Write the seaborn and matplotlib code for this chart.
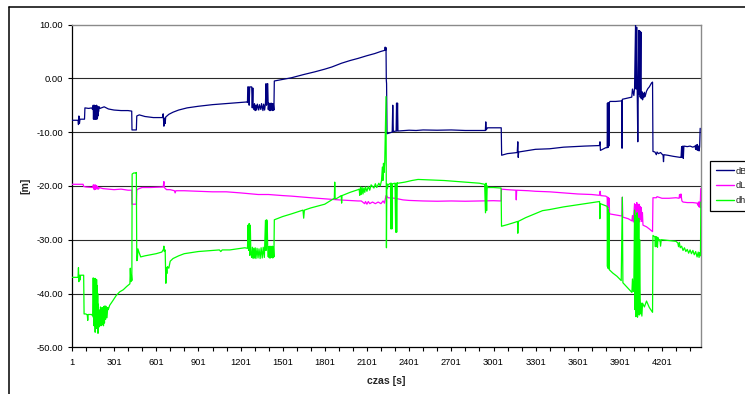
import numpy as np
import pandas as pd
import matplotlib
matplotlib.use("Agg")
import matplotlib.pyplot as plt
import seaborn as sns
from matplotlib.ticker import FixedLocator, FuncFormatter
from matplotlib.lines import Line2D

# ---------------- data (time [s], value [m]) ----------------
series_names = ["dB", "dL", "dh"]
series_colors = ["#000080", "#FF00FF", "#00FF00"]

dB_pts = [(1,-7.8),(44,-7.8),(47,-8.6),(50,-7.0),(54,-8.4),(58,-7.6),(90,-7.6),(93,-5.5),(120,-5.6),(140,-5.5),(148,-5.8),
 (152,-5.0),(154,-7.6),(156,-5.2),(158,-7.4),(160,-5.0),(162,-7.6),(164,-5.4),(166,-7.5),(168,-5.1),(170,-7.6),(172,-5.3),
 (174,-7.3),(176,-5.0),(178,-7.6),(180,-5.5),(182,-7.4),(184,-5.2),(186,-7.0),(188,-5.4),(190,-6.2),(195,-5.3),(200,-5.6),
 (210,-5.5),(230,-5.3),(260,-5.7),(300,-5.9),(350,-6.0),(400,-6.0),(426,-6.1),(428,-9.6),(459,-9.6),(462,-7.0),(480,-6.8),
 (520,-7.1),(580,-7.3),(645,-7.3),(650,-6.6),(655,-8.9),(660,-7.4),(664,-8.4),(668,-7.2),(690,-6.7),(720,-6.3),(760,-5.9),
 (820,-5.5),(900,-5.2),(1000,-4.9),(1100,-4.7),(1200,-4.5),(1245,-4.4),
 (1250,-4.5),(1252,-1.6),(1258,-1.6),(1262,-5.0),(1266,-1.6),(1280,-1.6),(1284,-5.5),(1288,-1.8),(1290,-4.8),
 (1295,-5.8),(1300,-4.7),(1305,-6.0),(1310,-5.0),(1315,-5.9),(1320,-4.8),(1330,-5.9),(1335,-4.9),(1345,-5.8),(1350,-4.7),
 (1360,-6.0),(1365,-4.8),(1372,-5.9),(1378,-4.6),
 (1382,-1.0),(1386,-5.0),(1390,-1.2),(1394,-1.0),(1398,-5.8),
 (1402,-4.6),(1406,-6.0),(1410,-4.8),(1414,-6.0),(1418,-4.6),(1422,-5.9),(1426,-4.7),(1430,-6.0),(1434,-4.8),(1438,-5.9),
 (1441,-0.5),(1500,-0.2),(1563,0.1),(1650,0.7),(1729,1.2),(1800,1.7),(1850,2.1),(1919,2.8),(1980,3.3),(2037,3.7),
 (2100,4.2),(2156,4.6),(2200,5.0),(2227,5.2),(2230,5.8),(2233,5.2),(2236,5.7),(2238,-0.3),(2240,-1.0),(2243,-10.3),
 (2280,-10.0),(2284,-5.0),(2288,-9.9),(2308,-9.8),(2311,-4.6),(2314,-9.8),(2318,-4.6),(2321,-9.8),(2350,-9.75),(2400,-9.65),
 (2450,-9.7),(2500,-9.6),(2600,-9.65),(2700,-9.6),(2800,-9.7),(2900,-9.7),(2943,-9.7),(2946,-8.1),(2949,-9.6),(2958,-9.2),
 (3000,-9.2),(3056,-9.2),(3059,-14.3),(3100,-14.0),(3170,-13.8),(3174,-11.8),(3177,-14.7),(3180,-13.7),(3250,-13.4),
 (3300,-13.2),(3400,-13.1),(3500,-12.8),(3650,-12.6),(3755,-12.5),(3759,-11.8),(3762,-13.4),(3800,-12.9),(3810,-12.9),
 (3812,-4.6),(3814,-12.8),(3816,-4.6),(3818,-12.8),(3820,-4.6),(3822,-12.6),(3825,-4.5),
 (3830,-4.3),(3870,-4.3),(3914,-4.2),(3916,-13.0),(3918,-3.9),(3950,-3.7),(3985,-3.5),(3990,-2.0),(4000,-3.2),(4005,-1.8),
 (4012,9.9),(4016,-2.0),(4020,9.5),(4024,-2.5),(4028,-11.8),(4031,-2.8),(4035,8.9),(4038,-3.0),(4042,8.8),(4045,-3.5),
 (4050,8.6),(4053,-3.8),(4058,-2.5),(4062,-4.0),(4066,-2.8),(4070,-3.6),(4075,-2.6),(4080,-3.4),(4090,-2.4),(4100,-1.9),
 (4110,-1.6),(4125,-0.9),(4133,-0.7),(4136,-13.6),(4150,-13.7),(4160,-14.2),(4165,-13.7),(4175,-14.0),(4190,-13.8),
 (4208,-14.3),(4211,-15.5),(4214,-14.2),(4240,-14.3),(4280,-14.5),(4330,-14.7),(4336,-14.7),(4340,-12.7),(4344,-14.7),
 (4348,-12.6),(4352,-14.9),(4356,-12.6),(4380,-12.7),(4400,-12.6),(4420,-12.8),(4435,-12.6),(4440,-13.2),(4444,-12.4),
 (4448,-13.3),(4452,-12.3),(4456,-13.4),(4460,-12.6),(4464,-13.5),(4468,-12.7),(4472,-9.3)]

dL_pts = [(1,-19.7),(80,-19.7),(84,-20.1),(100,-20.2),(150,-20.3),
 (153,-19.8),(156,-20.6),(159,-19.9),(162,-20.7),(165,-19.8),(168,-20.6),(171,-19.9),(174,-20.5),(177,-20.0),(180,-20.6),
 (185,-20.2),(190,-20.6),(196,-20.3),
 (220,-20.5),(260,-20.6),(300,-20.7),(350,-20.6),(400,-20.8),(426,-20.8),(428,-23.4),(459,-23.4),(462,-20.8),(470,-20.6),
 (500,-20.3),(560,-20.3),(650,-20.2),(655,-19.2),(658,-20.3),(674,-20.7),(700,-20.7),(730,-20.9),(735,-21.3),(740,-20.9),
 (800,-20.9),(900,-21.0),(1000,-21.1),(1100,-21.1),(1200,-21.3),(1326,-21.6),(1400,-21.6),(1500,-21.8),(1563,-21.9),
 (1650,-22.1),(1700,-22.2),(1800,-22.4),(1900,-22.6),(2037,-22.8),(2060,-22.8),
 (2084,-23.3),(2090,-22.9),(2100,-23.4),(2110,-22.9),(2120,-23.3),(2140,-23.0),(2160,-23.3),(2180,-23.0),(2200,-23.3),
 (2215,-22.8),(2225,-23.2),(2230,-22.6),(2236,-21.8),(2242,-21.9),(2250,-22.2),(2300,-22.3),(2357,-22.6),(2400,-22.7),
 (2500,-22.8),(2600,-22.85),(2700,-22.8),(2800,-22.85),(2900,-22.8),(3000,-22.75),(3055,-22.8),(3058,-20.6),(3100,-20.7),
 (3160,-20.8),(3163,-22.6),(3166,-20.8),(3250,-20.9),(3300,-21.0),(3400,-21.1),(3500,-21.3),(3600,-21.5),(3700,-21.6),
 (3755,-21.75),(3760,-21.0),(3764,-21.8),(3800,-21.9),(3810,-22.1),
 (3812,-24.0),(3814,-22.1),(3816,-24.0),(3818,-22.2),(3820,-23.9),(3824,-22.3),(3827,-25.2),
 (3870,-25.4),(3915,-25.6),(3918,-22.1),(3921,-25.8),(3960,-26.1),(3986,-26.5),(3990,-25.5),(3996,-26.7),
 (4005,-23.3),(4009,-26.5),(4013,-23.5),(4017,-26.6),(4021,-23.1),(4025,-26.7),(4029,-23.6),(4033,-26.3),(4037,-23.4),
 (4041,-26.7),(4045,-23.8),(4049,-26.2),(4053,-24.0),(4057,-26.6),(4061,-25.0),
 (4065,-27.3),(4090,-27.6),(4110,-28.0),(4133,-28.5),(4136,-22.2),(4160,-22.2),(4165,-22.0),(4200,-22.3),(4250,-22.3),
 (4300,-22.2),(4322,-22.3),(4325,-21.6),(4330,-22.2),(4335,-21.5),(4342,-22.8),(4350,-23.0),(4380,-23.1),(4420,-23.1),
 (4450,-23.2),(4456,-23.6),(4460,-23.0),(4464,-23.9),(4468,-23.0),(4472,-24.0),(4476,-20.5)]

dh_pts = [(1,-37.0),(44,-37.0),(47,-35.2),(50,-37.8),(54,-36.6),(58,-37.5),(62,-36.6),(84,-36.6),(87,-43.8),(100,-43.8),
 (110,-44.0),(113,-45.0),(116,-43.9),(140,-43.9),(150,-44.2),
 (152,-37.1),(154,-44.5),(156,-37.3),(158,-46.0),(160,-37.2),(162,-45.0),(164,-37.5),(166,-47.2),(168,-37.2),(170,-44.8),
 (172,-38.0),(174,-46.5),(176,-37.4),(178,-44.0),(180,-38.5),(182,-45.8),(184,-40.0),(186,-47.4),(188,-42.0),(190,-45.5),
 (192,-43.0),(195,-46.2),(198,-43.5),
 (201,-45.8),(204,-42.5),(207,-46.0),(210,-43.8),(213,-45.6),(216,-42.6),(219,-45.8),(222,-43.5),(225,-46.0),(228,-42.4),
 (232,-45.5),(236,-42.3),(240,-44.8),(245,-42.4),(250,-44.5),(255,-42.6),(259,-43.0),
 (269,-42.2),(290,-41.4),(315,-40.4),(340,-39.7),(366,-39.3),(390,-38.7),(413,-38.2),(416,-35.3),(420,-37.8),(424,-36.6),
 (427,-37.6),(429,-17.8),(440,-17.6),(455,-17.6),(459,-17.5),(462,-33.9),(466,-33.8),(470,-31.7),(480,-32.5),(490,-33.2),
 (520,-33.0),(560,-32.8),(600,-32.6),(640,-32.3),(652,-31.8),(655,-31.2),(658,-32.2),(664,-31.9),(669,-38.1),(672,-35.2),
 (676,-36.3),(680,-35.0),(690,-35.3),(700,-34.0),(720,-33.5),(760,-33.0),(800,-32.6),(850,-32.4),(900,-32.2),(1000,-32.0),
 (1050,-31.9),(1060,-32.2),(1070,-31.9),(1124,-31.9),(1231,-31.5),(1250,-31.6),
 (1254,-27.3),(1258,-32.0),(1262,-27.0),(1266,-32.9),(1270,-27.3),(1274,-32.5),
 (1280,-33.3),(1285,-31.4),(1290,-33.5),(1295,-31.6),(1300,-33.4),(1305,-31.5),(1310,-33.5),(1318,-31.6),(1325,-33.4),
 (1332,-31.7),(1340,-33.5),(1347,-31.5),(1355,-33.4),(1362,-31.4),(1370,-33.3),
 (1378,-26.4),(1382,-32.0),(1386,-26.3),(1390,-26.5),(1394,-31.6),(1398,-33.2),
 (1402,-31.3),(1406,-33.4),(1410,-31.2),(1414,-33.4),(1418,-31.3),(1422,-33.3),(1426,-31.2),(1430,-33.4),(1434,-31.3),
 (1438,-33.2),
 (1441,-26.3),(1500,-25.7),(1563,-25.2),(1645,-24.5),(1650,-26.0),(1655,-24.5),(1700,-24.1),(1800,-23.4),(1868,-22.3),
 (1871,-19.3),(1874,-22.4),(1880,-22.4),(1900,-22.1),(1917,-21.8),(1920,-23.2),(1923,-21.8),(1980,-21.2),(2037,-20.7),
 (2045,-20.6),(2049,-21.75),
 (2055,-20.2),(2060,-21.6),(2066,-20.3),(2072,-21.5),(2078,-20.4),(2085,-21.2),(2090,-20.2),(2100,-21.0),(2110,-20.1),
 (2120,-20.8),
 (2130,-19.8),(2150,-20.4),(2160,-19.6),(2170,-20.3),(2185,-19.5),(2195,-20.0),(2204,-19.0),(2210,-16.5),(2214,-19.0),
 (2218,-15.8),(2222,-17.5),(2227,-15.5),(2232,-9.0),(2236,-3.4),(2239,-31.5),(2242,-19.6),(2246,-20.5),(2250,-19.8),
 (2268,-19.5),(2271,-28.0),(2274,-19.5),(2278,-28.0),(2282,-19.6),(2300,-19.5),(2305,-28.6),(2308,-19.5),(2312,-28.6),
 (2316,-19.4),(2322,-19.5),(2370,-19.3),(2420,-19.0),(2464,-18.8),(2550,-18.9),(2650,-19.0),(2701,-19.1),(2800,-19.3),
 (2900,-19.5),(2938,-19.7),(2944,-25.0),(2948,-19.5),(2952,-24.6),(2956,-20.0),(2960,-20.3),(3000,-20.3),(3055,-20.4),
 (3058,-27.5),(3100,-27.2),(3150,-26.8),(3172,-26.6),(3174,-28.8),(3177,-26.6),(3230,-25.9),(3294,-25.2),(3350,-24.6),
 (3400,-24.4),(3500,-23.9),(3602,-23.5),(3700,-23.1),(3756,-22.9),(3758,-26.1),(3761,-23.3),(3790,-23.6),(3810,-23.8),
 (3812,-35.0),(3814,-24.0),(3816,-35.3),(3818,-24.5),(3820,-35.4),(3823,-25.0),(3826,-35.6),
 (3850,-36.2),(3880,-36.8),(3910,-37.6),(3918,-22.1),(3922,-38.0),(3950,-38.8),(3986,-39.8),(3990,-37.3),(3996,-39.6),
 (4000,-38.0),
 (4005,-24.5),(4008,-43.0),(4011,-25.5),(4014,-44.3),(4017,-26.0),(4020,-41.5),(4023,-25.0),(4026,-44.4),(4029,-28.0),
 (4032,-42.0),(4035,-26.0),(4038,-44.0),(4041,-30.0),(4045,-41.0),(4049,-43.8),(4053,-41.8),(4057,-44.2),(4062,-41.8),
 (4075,-42.5),(4090,-41.4),(4110,-42.6),(4125,-43.2),(4133,-43.5),(4136,-29.2),(4150,-29.5),(4153,-31.3),(4156,-29.4),
 (4160,-31.2),(4164,-29.5),(4168,-31.4),(4172,-29.6),(4180,-30.2),(4186,-30.0),(4190,-31.2),(4195,-30.0),(4230,-30.1),
 (4260,-30.2),(4300,-30.3),(4313,-30.6),(4318,-31.3),(4324,-30.5),(4330,-31.5),(4340,-31.2),(4350,-32.0),(4360,-31.5),
 (4370,-32.2),(4380,-31.8),(4390,-32.5),(4400,-31.9),(4410,-32.6),(4420,-32.0),(4430,-32.8),(4440,-32.2),(4450,-33.2),
 (4458,-32.3),(4464,-33.3),(4470,-32.4),(4474,-33.0),(4477,-23.0)]

y_ticks = [-50, -40, -30, -20, -10, 0, 10]
x_major_ticks = [1, 301, 601, 901, 1201, 1501, 1801, 2101, 2401, 2701, 3001, 3301, 3601, 3901, 4201]
x_minor_ticks = list(range(101, 4500, 100))
x_label = "czas [s]"
y_label = "[m]"

# ---------------- drawing ----------------
sns.set_style("white")
plt.rcParams["font.family"] = ["Liberation Sans", "DejaVu Sans"]

W, H = 745, 394
fig = plt.figure(figsize=(W / 100, H / 100), dpi=100)
L, R, T, B = 72, 701.3, 24.5, 347.3
ax = fig.add_axes([L / W, 1 - B / H, (R - L) / W, (B - T) / H])

frames = []
for name, pts in zip(series_names, [dB_pts, dL_pts, dh_pts]):
    t, v = zip(*pts)
    frames.append(pd.DataFrame({"t": t, "v": v, "series": name}))
df = pd.concat(frames, ignore_index=True)

for name, col in zip(series_names, series_colors):
    sub = df[df["series"] == name]
    sns.lineplot(data=sub, x="t", y="v", ax=ax, color=col, lw=0.9,
                 estimator=None, sort=False, label=name, zorder=3)

ax.set_xlim(1, 4480)
ax.set_ylim(-50, 10)

for yv in y_ticks[1:-1]:
    ax.axhline(yv, color="#2a2a2a", lw=0.8, zorder=1)

ax.yaxis.set_major_locator(FixedLocator(y_ticks))
ax.yaxis.set_major_formatter(FuncFormatter(lambda v, p: "%.2f" % v))
ax.xaxis.set_major_locator(FixedLocator(x_major_ticks))
ax.xaxis.set_minor_locator(FixedLocator(x_minor_ticks))
ax.xaxis.set_major_formatter(FuncFormatter(lambda v, p: "%d" % round(v)))

ax.tick_params(axis="both", which="both", direction="out", length=3.0, width=0.8,
               color="black", labelsize=6.7, labelcolor="black")
ax.tick_params(axis="y", pad=3.5)
ax.tick_params(axis="x", pad=5.0)
ax.tick_params(axis="x", which="minor", bottom=True)
ax.tick_params(axis="y", left=True)
ax.tick_params(axis="x", bottom=True)

for s in ["left", "bottom"]:
    ax.spines[s].set_color("black")
    ax.spines[s].set_linewidth(0.9)
for s in ["top", "right"]:
    ax.spines[s].set_color("#8a8a8a")
    ax.spines[s].set_linewidth(1.0)
    ax.spines[s].set_visible(True)

ax.set_xlabel(x_label, fontsize=7.6, fontweight="bold")
ax.set_ylabel(y_label, fontsize=7.6, fontweight="bold")
ax.xaxis.set_label_coords(0.5, (B - 376.5) / (B - T))
ax.yaxis.set_label_coords((30.5 - L) / (R - L), 0.5)

handles, labels = ax.get_legend_handles_labels()
ax.get_legend().remove()
leg = ax.legend(handles, labels, loc="upper left", bbox_to_anchor=(710 / W, 1 - 161 / H),
                bbox_transform=fig.transFigure, fontsize=6.7, frameon=True, fancybox=False,
                edgecolor="black", framealpha=1, borderpad=0.6, labelspacing=0.62,
                handlelength=2.0, handletextpad=0.15, borderaxespad=0)
leg.get_frame().set_linewidth(0.9)
for h in leg.get_lines():
    h.set_linewidth(1.0)

# outer chart-area frame (top and left edges visible in the crop)
fig.add_artist(Line2D([9 / W, 1.0], [1 - 7.3 / H, 1 - 7.3 / H], transform=fig.transFigure,
                      color="black", lw=1.1))
fig.add_artist(Line2D([9 / W, 9 / W], [0.0, 1 - 7.3 / H], transform=fig.transFigure,
                      color="black", lw=1.1))

fig.savefig("out.png", dpi=100)
